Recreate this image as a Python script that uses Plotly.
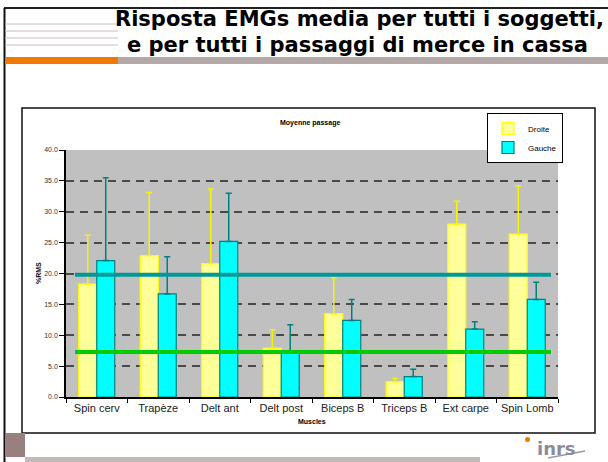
import plotly.graph_objects as go

# ---- data ----
muscles = ["Spin cerv", "Trapèze", "Delt ant", "Delt post", "Biceps B", "Triceps B", "Ext carpe", "Spin Lomb"]
droite = [18.3, 22.9, 21.6, 7.9, 13.5, 2.5, 28.0, 26.4]
droite_err = [7.9, 10.2, 12.1, 3.0, 5.8, 0.5, 3.7, 7.8]
gauche = [22.1, 16.7, 25.2, 7.2, 12.4, 3.3, 11.0, 15.8]
gauche_err = [13.4, 6.0, 7.8, 4.5, 3.4, 1.2, 1.2, 2.8]
ref_high = 19.8
ref_low = 7.3
y_ticks = [0, 5, 10, 15, 20, 25, 30, 35, 40]
y_ticklabels = ["0.0", "5.0", "10.0", "15.0", "20.0", "25.0", "30.0", "35.0", "40.0"]

W, H = 608, 462
L, R, T, B = 66, 558, 150, 397


def fx(p):
    return (p - L) / (R - L)


def fy(p):
    return (B - p) / (B - T)


fig = go.Figure()
fig.add_trace(go.Bar(
    x=muscles, y=droite, name="Droite",
    marker=dict(color="#ffff99", line=dict(color="#ffff00", width=1.2)),
    error_y=dict(type="data", array=droite_err, symmetric=False,
                 arrayminus=[0] * len(droite), color="#f5f500", thickness=1.5, width=3),
))
fig.add_trace(go.Bar(
    x=muscles, y=gauche, name="Gauche",
    marker=dict(color="#00ffff", line=dict(color="#008080", width=1.2)),
    error_y=dict(type="data", array=gauche_err, symmetric=False,
                 arrayminus=[0] * len(gauche), color="#008080", thickness=1.5, width=3),
))

shapes = []
# reference lines
x0 = -0.5 + (75 - L) / ((R - L) / 8)
x1 = -0.5 + (551 - L) / ((R - L) / 8)
shapes.append(dict(type="line", xref="x", yref="y", x0=x0, x1=x1, y0=ref_high, y1=ref_high,
                   line=dict(color="#009999", width=4)))
shapes.append(dict(type="line", xref="x", yref="y", x0=x0, x1=x1, y0=ref_low, y1=ref_low,
                   line=dict(color="#00cc00", width=4)))


def prect(xa, ya, xb, yb, fill=None, line=None, lw=0):
    d = dict(type="rect", xref="paper", yref="paper", x0=fx(xa), x1=fx(xb), y0=fy(ya), y1=fy(yb),
             line=dict(width=lw, color=line or "rgba(0,0,0,0)"))
    d["fillcolor"] = fill if fill else "rgba(0,0,0,0)"
    return d


def pline(xa, ya, xb, yb, color, w):
    return dict(type="line", xref="paper", yref="paper", x0=fx(xa), x1=fx(xb), y0=fy(ya), y1=fy(yb),
                line=dict(color=color, width=w))


# slide decoration
shapes.append(pline(4, 8, 608, 8, "#222222", 2))
shapes.append(pline(4.5, 8, 4.5, 462, "#111111", 2))
for yy in [24, 31, 38, 45]:
    shapes.append(pline(5, yy, 118, yy, "#c8bcbc", 1))
shapes.append(prect(5, 57, 118, 64, fill="#f07a00"))
shapes.append(prect(118, 57, 608, 64, fill="#b4a8a8"))
shapes.append(prect(22, 108, 595, 433, line="#111111", lw=1.5))
shapes.append(prect(5, 433, 25, 457, fill="#9a7f7f"))
shapes.append(prect(25, 457, 480, 462, fill="#c4b8b8"))
# inrs logo bits
shapes.append(dict(type="circle", xref="paper", yref="paper", x0=fx(525), x1=fx(530), y0=fy(437), y1=fy(442),
                   fillcolor="#f07a00", line=dict(width=0)))
shapes.append(pline(548, 458, 585, 451, "#9a9aa8", 1.5))


def ann(text, x, y, size, family="Liberation Sans", color="#000000", angle=0, weight="normal"):
    return dict(text=text, x=fx(x), y=fy(y), xref="paper", yref="paper", xanchor="center", yanchor="middle",
                showarrow=False, textangle=angle,
                font=dict(family=family, size=size, color=color, weight=weight))


annotations = [
    ann("Risposta EMGs media per tutti i soggetti,", 359, 19, 21, family="DejaVu Sans", weight="bold"),
    ann("e per tutti i passaggi di merce in cassa", 357, 45, 21, family="DejaVu Sans", weight="bold"),
    ann("<b>Moyenne passage</b>", 310, 123, 7),
    ann("<b>%RMS</b>", 38, 273, 7, angle=-90),
    ann("<b>Muscles</b>", 312, 421, 7),
    ann("<b>inrs</b>", 556, 448, 18, family="DejaVu Sans", color="#8a8a99"),
]

fig.update_layout(
    width=W, height=H,
    margin=dict(l=L, r=W - R, t=T, b=H - B, pad=0),
    paper_bgcolor="white",
    plot_bgcolor="#c0c0c0",
    barmode="group",
    bargap=0.415,
    bargroupgap=0,
    showlegend=True,
    legend=dict(x=fx(487), y=fy(113), xanchor="left", yanchor="top",
                bordercolor="#000000", borderwidth=1, bgcolor="white",
                font=dict(family="Liberation Sans", size=8, color="#000000"),
                itemwidth=30, tracegroupgap=0),
    shapes=shapes,
    annotations=annotations,
    xaxis=dict(
        showgrid=False, showline=True, linecolor="#000000", linewidth=1.5,
        ticks="outside", ticklen=4, tickcolor="#000000", tickson="boundaries",
        tickangle=0,
        tickfont=dict(family="Liberation Sans", size=11, color="#222222"),
    ),
    yaxis=dict(
        range=[0, 40], tickvals=y_ticks, ticktext=y_ticklabels,
        showgrid=True, gridcolor="#4a4a4a", gridwidth=1.7, griddash="8px,6px",
        showline=True, linecolor="#000000", linewidth=1.5,
        ticks="outside", ticklen=5, tickcolor="#000000",
        tickfont=dict(family="Liberation Sans", size=7, color="#333333"),
        zeroline=False,
    ),
)

fig.write_html("out.html", config={"displayModeBar": False},
               post_script="document.body.style.margin='0';document.body.style.padding='0';")
